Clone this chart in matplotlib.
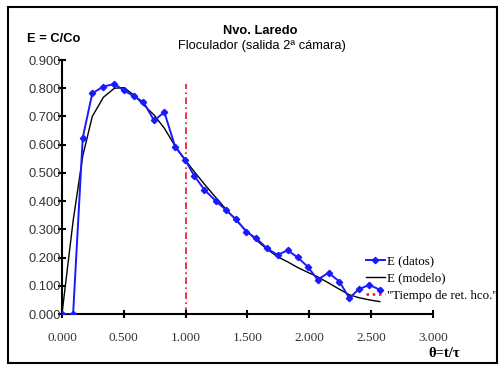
"""Curva de distribución de tiempos de residencia - Nvo. Laredo."""
import matplotlib
matplotlib.use("Agg")
import matplotlib.pyplot as plt
from matplotlib.patches import Rectangle
from matplotlib.lines import Line2D

# theta = t/tau for the measured points
theta = [0.000, 0.090, 0.168, 0.245, 0.335, 0.424, 0.502, 0.583, 0.658, 0.745,
         0.828, 0.915, 0.996, 1.069, 1.152, 1.245, 1.325, 1.406, 1.490, 1.571,
         1.657, 1.743, 1.824, 1.905, 1.986, 2.067, 2.156, 2.243, 2.324, 2.400,
         2.486, 2.570]
e_datos = [0.000, 0.000, 0.625, 0.782, 0.806, 0.815, 0.792, 0.771, 0.751, 0.686,
           0.715, 0.593, 0.546, 0.490, 0.440, 0.400, 0.369, 0.336, 0.292, 0.268,
           0.233, 0.209, 0.226, 0.201, 0.168, 0.122, 0.146, 0.115, 0.056, 0.088,
           0.103, 0.086]
e_modelo = [0.000, 0.330, 0.560, 0.700, 0.768, 0.800, 0.802, 0.775, 0.742, 0.705,
            0.658, 0.595, 0.546, 0.505, 0.460, 0.412, 0.372, 0.333, 0.295, 0.262,
            0.230, 0.203, 0.185, 0.165, 0.148, 0.132, 0.110, 0.088, 0.068, 0.058,
            0.050, 0.044]
t_ret_x = [1.0, 1.0]
t_ret_y = [0.0, 0.815]

x_ticks = [0.0, 0.5, 1.0, 1.5, 2.0, 2.5, 3.0]
y_ticks = [0.0, 0.1, 0.2, 0.3, 0.4, 0.5, 0.6, 0.7, 0.8, 0.9]

sans = "Liberation Sans"
serif = "Liberation Serif"

fig = plt.figure(figsize=(4.99, 3.65), dpi=100)
ax = fig.add_axes([0.1242, 0.1397, 0.8677 - 0.1242, 0.8356 - 0.1397])

ax.plot(theta, e_datos, color="#1a1aff", linewidth=1.4, marker="D", markersize=3.2,
        label="E (datos)", zorder=3)
ax.plot(theta, e_modelo, color="black", linewidth=1.0, label="E (modelo)", zorder=2)
ax.plot(t_ret_x, t_ret_y, color="#e8102a", linewidth=1.2,
        linestyle=(0, (4, 2, 1, 2)), zorder=1)

ax.set_xlim(0, 3.0)
ax.set_ylim(0, 0.9)
ax.set_xticks(x_ticks)
ax.set_yticks(y_ticks)
ax.set_xticklabels([f"{v:.3f}" for v in x_ticks], fontfamily=serif, fontsize=9.5,
                   color="#333333")
ax.set_yticklabels([f"{v:.3f}" for v in y_ticks], fontfamily=sans, fontsize=9.3,
                   color="#333333")
ax.tick_params(direction="inout", length=6, width=1.5)
ax.tick_params(axis="x", pad=10)
ax.tick_params(axis="y", pad=-2.5)
for side in ["top", "right"]:
    ax.spines[side].set_visible(False)
for side in ["left", "bottom"]:
    ax.spines[side].set_linewidth(1.5)

# titles and axis labels
fig.text(0.521, 0.907, "Nvo. Laredo", ha="center", fontfamily=sans,
         fontweight="bold", fontsize=9.3)
fig.text(0.525, 0.866, "Floculador (salida 2ª cámara)", ha="center",
         fontfamily=sans, fontsize=9.3)
fig.text(0.054, 0.885, "E = C/Co", fontfamily=sans, fontweight="bold", fontsize=9.3)
fig.text(0.858, 0.022, "θ=t/τ", fontfamily=serif, fontweight="bold", fontsize=10.5)

handles = [
    Line2D([], [], color="#1a1aff", linewidth=1.4, marker="D", markersize=3.2),
    Line2D([], [], color="black", linewidth=1.0),
    Line2D([], [], color="#e8102a", linewidth=1.8, linestyle=(0, (1, 1.5))),
]
labels = ["E (datos)", "E (modelo)", "\"Tiempo de ret. hco.\""]
fig.legend(handles, labels, loc="upper left", bbox_to_anchor=(0.733, 0.3),
           frameon=False, prop={"family": serif, "size": 9.3}, handlelength=1.5,
           handletextpad=0.15, labelspacing=0.4, borderaxespad=0, borderpad=0)

fig.patches.append(Rectangle((0.016, 0.006), 0.979, 0.975, transform=fig.transFigure,
                             fill=False, edgecolor="black", linewidth=1.5))

fig.savefig("out.png", dpi=100)
